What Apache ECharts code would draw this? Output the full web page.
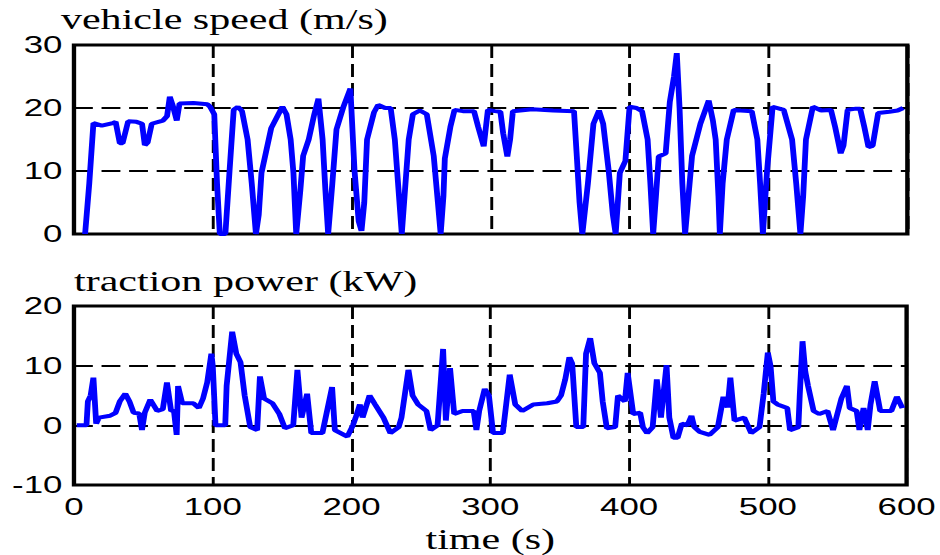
<!DOCTYPE html>
<html>
<head>
<meta charset="utf-8">
<script src="https://cdn.jsdelivr.net/npm/echarts@6/dist/echarts.min.js"></script>
<style>
html,body{margin:0;padding:0;background:#fff;overflow:hidden;width:940px;height:555px;}
#chart{width:648px;height:555px;transform:scaleX(1.4506);transform-origin:0 0;}
</style>
</head>
<body>
<div id="chart"></div>
<script>
// ---- data ----
var speedTitle = 'vehicle speed (m/s)';
var powerTitle = 'traction power (kW)';
var xName = 'time (s)';
var xTicks = [0, 100, 200, 300, 400, 500, 600];
var speedTicks = [0, 10, 20, 30];
var powerTicks = [-10, 0, 10, 20];

var speedTime = [8,11,14,20,28,30,33,35,39,45,49,51,53,56,64,67,69,71,74,76,86,96,98,101,103,105,109,112,115,118,121,125,128,131,133,135,142,150,153,156,158,160,163,165,169,173,176,179,181,183,186,189,194,199,202,205,207,209,211,216,219,224,228,231,234,236,238,241,244,249,254,259,262,264,266,267,271,274,280,288,291,295,298,303,307,309,312,314,316,330,345,360,362,364,366,370,374,378,381,385,388,390,393,397,400,405,409,413,415,417,419,421,426,429,432,434,436,438,440,442,445,451,457,460,462,464,465,467,470,475,480,488,492,494,496,499,503,511,517,520,523,525,527,532,538,545,548,552,554,557,563,566,569,572,575,579,587,593,597];
var speedValues = [0,8,17.6,17.2,17.6,17.8,14.4,14.4,17.9,17.8,17.5,14.1,14.5,17.5,18,18.7,21.8,20.5,18,20.7,20.8,20.6,20.2,19,8,0,0,10,19.7,20.2,19.5,15,8,0,3,9.7,16.8,20.2,19,15,9.7,0,7,12.4,15,19,21.5,15,7,0,8,16.6,20.2,23.1,10,2,0.5,5,15,19.3,20.5,20,20,15,6,0,6,15,19,19.6,19,12.4,5,0,6,12,17,19.7,19.5,19.5,17,13.9,19.7,19.5,19.4,16,12.3,15,19.5,19.8,19.6,19.5,12.4,5,0,8,17.5,19.6,17.5,10,3,0,9.7,11.6,20.2,20,19.5,15,8,0,6,12.3,12.8,21,25,28.7,20,8,0,5,12.4,17.5,21.2,18,15,6,0,8,15,19.7,19.6,19.5,15,8,0,10,20.2,19.7,15,8,0,6,15,20.2,19.6,19.7,17,12.8,14,19.7,19.9,19.9,17,13.8,14,19.2,19.4,19.6,20];

var powerTime = [2,9,10,12,14,16,18,26,30,33,37,40,43,47,49,51,55,60,64,67,70,72,74,75,78,86,90,93,96,99,100,102,109,110,114,117,120,123,127,132,134,137,143,148,152,158,161,164,168,171,179,186,188,197,201,203,206,208,213,217,223,228,234,236,241,244,248,254,257,262,266,268,271,274,280,288,290,292,296,299,302,309,314,318,323,331,341,348,351,354,357,359,362,367,369,372,375,379,381,384,390,392,397,399,403,408,410,413,417,420,423,427,429,432,435,438,442,445,447,451,458,464,468,471,473,476,483,488,494,497,500,502,504,507,514,516,522,523,525,527,529,533,537,543,547,553,557,559,564,566,569,572,574,577,581,589,593,597];
var powerValues = [0,0,4,5,8,0.3,1.3,1.6,2.1,4,5.3,4,2.1,2,-0.8,2.1,4.3,2.4,2.7,7.2,2.4,2.5,-1.6,6.6,3.7,3.7,2.9,4.5,7.2,12,10,0,0,6.6,15.7,12,10.6,5,-0.3,-0.8,8.2,4.5,3.7,1.9,-0.5,0,9.3,1.3,5.3,-1.3,-1.3,6.4,-0.8,-1.9,0,1.3,3.5,1.3,5,3.5,1.3,-1.3,-0.3,1.3,9.3,5,3.5,2.4,-0.8,0,12.8,0.8,9.6,1.9,2.4,2.4,-0.8,2.4,6.1,5,-1.3,-1.3,8.5,3.5,2.4,3.5,3.7,4,5,7.7,11.4,10.4,-0.3,-0.3,12,14.6,10.4,8.8,4,-0.5,-0.3,5,4,8.8,1.9,2.1,-0.3,-1.3,-0.3,7.7,1.3,10.1,1.3,-2.1,-2.1,0.3,0,1.6,-0.3,-1.1,-1.6,-0.3,4.8,3,8,0.8,1.3,-1.3,-0.3,5.3,12.2,9.9,4,3.5,2.9,-0.8,-0.3,5,14.1,9,6.6,2.4,1.9,2.4,-0.8,4.5,6.6,2.9,2.4,-0.8,2.9,-0.8,3.5,7.4,2.4,2.4,4.8,2.9];

function pairs(xs, ys){ var out=[]; for(var i=0;i<xs.length;i++){ out.push([xs[i], ys[i]]); } return out; }

var chart = echarts.init(document.getElementById('chart'), null, {renderer:'svg'});
var labelFont = {color:'#000', fontFamily:'Liberation Sans', fontSize:24};
var titleFont = {color:'#000', fontFamily:'Liberation Serif', fontSize:29, fontWeight:'normal'};
var dashed = {show:true, lineStyle:{color:'#000', width:2, type:[13,6]}};

function xAxisDef(idx, showLabels){
  return {
    type:'value', gridIndex:idx, min:xTicks[0], max:xTicks[xTicks.length-1], interval:xTicks[1]-xTicks[0],
    axisLine:{show:false}, axisTick:{show:false},
    axisLabel:Object.assign({show:showLabels, margin:10}, labelFont),
    splitLine:dashed,
    name: showLabels ? xName : '', nameLocation:'middle', nameGap:40,
    nameTextStyle:{color:'#000', fontFamily:'Liberation Serif', fontSize:29}
  };
}
function yAxisDef(idx, ticks){
  return {
    type:'value', gridIndex:idx, min:ticks[0], max:ticks[ticks.length-1], interval:ticks[1]-ticks[0],
    axisLine:{show:false}, axisTick:{show:false},
    axisLabel:Object.assign({margin:8}, labelFont),
    splitLine:dashed
  };
}

chart.setOption({
  animation:false,
  backgroundColor:'#fff',
  title:[
    {text:speedTitle, left:42, top:5, padding:0, textStyle:titleFont},
    {text:powerTitle, left:51, top:267, padding:0, textStyle:titleFont}
  ],
  grid:[
    {left:51, right:22.5, top:45, height:189, show:true, borderColor:'#000', borderWidth:3, backgroundColor:'transparent'},
    {left:51, right:22.5, top:306, height:191, show:true, borderColor:'#000', borderWidth:3, backgroundColor:'transparent'}
  ],
  xAxis:[xAxisDef(0,false), xAxisDef(1,true)],
  yAxis:[yAxisDef(0,speedTicks), yAxisDef(1,powerTicks)],
  series:[
    {type:'line', xAxisIndex:0, yAxisIndex:0, data:pairs(speedTime, speedValues), showSymbol:false, lineStyle:{color:'#0000ff', width:4}, z:5},
    {type:'line', xAxisIndex:1, yAxisIndex:1, data:pairs(powerTime, powerValues), showSymbol:false, lineStyle:{color:'#0000ff', width:4}, z:5}
  ]
});
</script>
</body>
</html>
